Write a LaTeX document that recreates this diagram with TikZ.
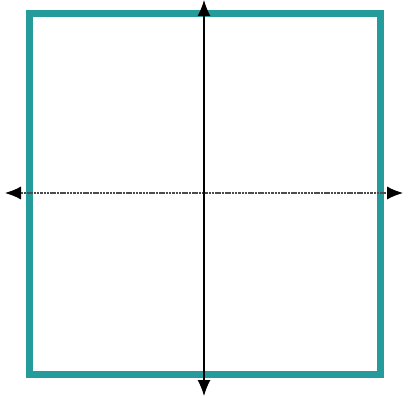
\documentclass[tikz,border=0pt]{standalone}
\usepackage{tikz}
\usetikzlibrary{arrows.meta}
\definecolor{tealframe}{RGB}{38,155,155}

\begin{document}
\begin{tikzpicture}[
    x=1pt, y=-1pt,
    frame/.style={draw=tealframe, line width=7pt},
    axis/.style={draw=black, line width=1.3pt, {Latex[length=16pt,width=13pt]}-{Latex[length=16pt,width=13pt]}},
    haxis/.style={axis, draw=black!70, line width=1.1pt, dash pattern=on 2.5pt off 0.8pt,
        {Latex[length=16pt,width=13pt,color=black]}-{Latex[length=16pt,width=13pt,color=black]}}
]
    \useasboundingbox (0,0) rectangle (404,398);
    \coordinate (west) at (5,193);
    \coordinate (east) at (403,193);
    \coordinate (north) at (204,0);
    \coordinate (south) at (204,396);

    \draw [frame] (29,14) rectangle (380,374);
    \path [haxis] (west) -- (east);
    \path [axis] (north) -- (south);
\end{tikzpicture}
\end{document}
